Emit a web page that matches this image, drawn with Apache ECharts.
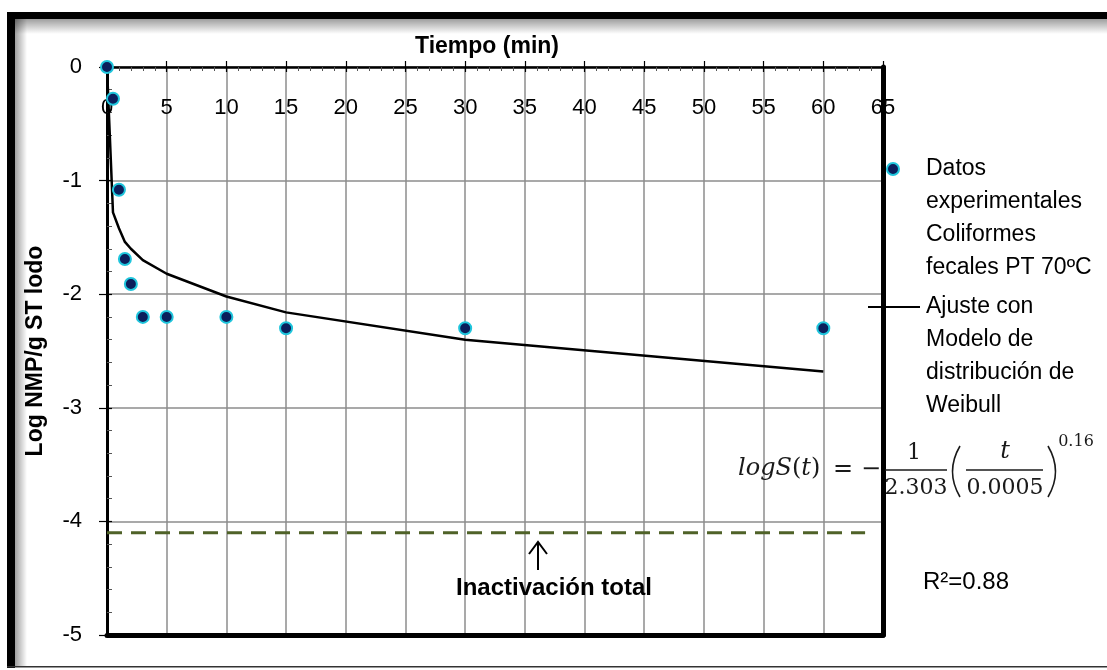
<!DOCTYPE html>
<html>
<head>
<meta charset="utf-8">
<script src="https://cdn.jsdelivr.net/npm/echarts@6/dist/echarts.min.js"></script>
<style>
  html, body { margin: 0; padding: 0; background: #fff; }
  #chart { width: 1107px; height: 670px; }
</style>
</head>
<body>
<div id="chart"></div>
<script>
// Coliformes fecales, PT 70 ºC: measured log reduction vs. time (min)
const tiempo = [0, 0.5, 1, 1.5, 2, 3, 5, 10, 15, 30, 60];
const logNMP = [0, -0.28, -1.08, -1.69, -1.91, -2.2, -2.2, -2.2, -2.3, -2.3, -2.3];

// Weibull model curve, evaluated at the sampling times
const tiempoAjuste = [0, 0.5, 1, 1.5, 2, 3, 5, 10, 15, 30, 60];
const logAjuste = [0, -1.28, -1.42, -1.54, -1.60, -1.70, -1.82, -2.02, -2.16, -2.40, -2.68];

// Total inactivation level
const limiteT = [0, 63.5];
const limiteLog = [-4.1, -4.1];

// Axis ticks
const xTicks = [0, 5, 10, 15, 20, 25, 30, 35, 40, 45, 50, 55, 60, 65];
const yTicks = [-5, -4, -3, -2, -1, 0];

const legendDatos = ['Datos', 'experimentales', 'Coliformes', 'fecales PT 70ºC'];
const legendAjuste = ['Ajuste con', 'Modelo de', 'distribución de', 'Weibull'];

const SANS = 'Liberation Sans';
const SERIF = 'DejaVu Serif';
const NAVY = '#0b1f5c';
const CYAN = '#1fc5dc';

const pairs = (xs, ys) => xs.map((x, i) => [x, ys[i]]);

const chart = echarts.init(document.getElementById('chart'), null, { renderer: 'canvas' });

const hiddenAxisBits = {
  axisLabel: { show: false },
  splitLine: { show: false },
  minorTick: { show: false },
  minorSplitLine: { show: false }
};

const option = {
  animation: false,
  backgroundColor: '#fff',
  grid: { left: 107, top: 67, width: 776, height: 568, containLabel: false },
  xAxis: [
    {
      type: 'value', position: 'top', min: 0, max: 65, interval: 5,
      name: 'Tiempo (min)', nameLocation: 'middle', nameGap: 9,
      nameTextStyle: { fontFamily: SANS, fontSize: 23, fontWeight: 'bold', color: '#000', padding: [0, 16, 0, 0] },
      axisLine: { onZero: false, lineStyle: { color: '#000', width: 2.5 } },
      axisTick: { show: true, inside: true, length: 5, lineStyle: { color: '#000', width: 1.2 } },
      minorTick: { show: true, splitNumber: 5, length: 4, lineStyle: { color: '#555', width: 1 } },
      axisLabel: { inside: true, margin: 30, fontFamily: SANS, fontSize: 22, color: '#000', customValues: xTicks },
      splitLine: { show: true, lineStyle: { color: '#8c8c8c', width: 1.5 } }
    },
    {
      // lower frame of the plot
      type: 'value', position: 'bottom', min: 0, max: 65, interval: 5,
      axisLine: { onZero: false, lineStyle: { color: '#000', width: 5 } },
      axisTick: { show: false }, ...hiddenAxisBits
    },
    {
      // outward major ticks along the top axis
      type: 'value', position: 'top', min: 0, max: 65, interval: 5,
      axisLine: { show: false, onZero: false },
      axisTick: { show: true, inside: false, length: 6, lineStyle: { color: '#000', width: 1.2 } },
      ...hiddenAxisBits
    }
  ],
  yAxis: [
    {
      type: 'value', position: 'left', min: -5, max: 0, interval: 1,
      name: 'Log NMP/g ST lodo', nameLocation: 'middle', nameRotate: 90, nameGap: 60,
      nameTextStyle: { fontFamily: SANS, fontSize: 23, fontWeight: 'bold', color: '#000' },
      axisLine: { onZero: false, lineStyle: { color: '#000', width: 3 } },
      axisTick: { show: true, inside: true, length: 5, lineStyle: { color: '#000', width: 1.2 } },
      minorTick: { show: true, splitNumber: 5, length: 5, lineStyle: { color: '#555', width: 1 } },
      axisLabel: { margin: 25, fontFamily: SANS, fontSize: 22, color: '#000', customValues: yTicks },
      splitLine: { show: true, lineStyle: { color: '#8c8c8c', width: 1.5 } }
    },
    {
      // right frame of the plot
      type: 'value', position: 'right', min: -5, max: 0, interval: 1,
      axisLine: { onZero: false, lineStyle: { color: '#000', width: 5 } },
      axisTick: { show: false }, ...hiddenAxisBits
    },
    {
      // outward major ticks along the left axis
      type: 'value', position: 'left', min: -5, max: 0, interval: 1,
      axisLine: { show: false, onZero: false },
      axisTick: { show: true, inside: false, length: 8, lineStyle: { color: '#000', width: 1.2 } },
      ...hiddenAxisBits
    }
  ],
  series: [
    {
      name: 'Inactivación total', type: 'line', xAxisIndex: 0, yAxisIndex: 0,
      data: pairs(limiteT, limiteLog), showSymbol: false, z: 3,
      lineStyle: { color: '#4f6228', width: 3, type: [15, 9] }
    },
    {
      name: 'Ajuste Weibull', type: 'line', xAxisIndex: 0, yAxisIndex: 0,
      data: pairs(tiempoAjuste, logAjuste), showSymbol: false, smooth: false, z: 4,
      lineStyle: { color: '#000', width: 2.5, join: 'round' }
    },
    {
      name: 'Datos experimentales', type: 'scatter', xAxisIndex: 0, yAxisIndex: 0,
      data: pairs(tiempo, logNMP), symbol: 'circle', symbolSize: 12, z: 5,
      itemStyle: { color: NAVY, borderColor: CYAN, borderWidth: 2, opacity: 1 }
    }
  ],
  graphic: [
    // outer frame with soft inner shadow
    { type: 'rect', z: -5, shape: { x: 15, y: 19, width: 1092, height: 15 },
      style: { fill: new echarts.graphic.LinearGradient(0, 0, 0, 1, [
        { offset: 0, color: 'rgba(0,0,0,0.38)' }, { offset: 1, color: 'rgba(0,0,0,0)' }]) } },
    { type: 'rect', z: -5, shape: { x: 15, y: 19, width: 12, height: 647 },
      style: { fill: new echarts.graphic.LinearGradient(0, 0, 1, 0, [
        { offset: 0, color: 'rgba(0,0,0,0.38)' }, { offset: 1, color: 'rgba(0,0,0,0)' }]) } },
    { type: 'rect', z: -4, shape: { x: 7, y: 12, width: 1100, height: 7 }, style: { fill: '#000' } },
    { type: 'rect', z: -4, shape: { x: 7, y: 12, width: 8, height: 656 }, style: { fill: '#000' } },
    { type: 'rect', z: -4, shape: { x: 7, y: 666, width: 1100, height: 1.5 }, style: { fill: '#333' } },

    // legend
    { type: 'circle', z: 10, shape: { cx: 893, cy: 169, r: 6 }, style: { fill: NAVY, stroke: CYAN, lineWidth: 2 } },
    { type: 'line', z: 10, shape: { x1: 868, y1: 307, x2: 920, y2: 307 }, style: { stroke: '#000', lineWidth: 2 } },
    { type: 'text', z: 10, x: 926, y: 152.5,
      style: { text: legendDatos.join('\n'), fontFamily: SANS, fontSize: 23, lineHeight: 33, fill: '#000', align: 'left', verticalAlign: 'top' } },
    { type: 'text', z: 10, x: 926, y: 290.5,
      style: { text: legendAjuste.join('\n'), fontFamily: SANS, fontSize: 23, lineHeight: 33, fill: '#000', align: 'left', verticalAlign: 'top' } },

    // model equation
    { type: 'text', z: 10, x: 738, y: 469,
      style: { text: '{i|logS}{u|(}{i|t}{u|)}', align: 'left', verticalAlign: 'middle', fill: '#1a1a1a',
        rich: { i: { fontFamily: SERIF, fontStyle: 'italic', fontSize: 24, fill: '#1a1a1a' },
                u: { fontFamily: SERIF, fontSize: 24, fill: '#1a1a1a' } } } },
    { type: 'text', z: 10, x: 843, y: 470, style: { text: '=', fontFamily: SERIF, fontSize: 24, fill: '#1a1a1a', align: 'center', verticalAlign: 'middle' } },
    { type: 'text', z: 10, x: 871, y: 470, style: { text: '\u2212', fontFamily: SERIF, fontSize: 24, fill: '#1a1a1a', align: 'center', verticalAlign: 'middle' } },
    { type: 'line', z: 10, shape: { x1: 885, y1: 470, x2: 947, y2: 470 }, style: { stroke: '#1a1a1a', lineWidth: 1.5 } },
    { type: 'text', z: 10, x: 914, y: 453, style: { text: '1', fontFamily: SERIF, fontSize: 22, fill: '#1a1a1a', align: 'center', verticalAlign: 'middle' } },
    { type: 'text', z: 10, x: 916, y: 488, style: { text: '2.303', fontFamily: SERIF, fontSize: 22, fill: '#1a1a1a', align: 'center', verticalAlign: 'middle' } },
    { type: 'bezierCurve', z: 10, shape: { x1: 960, y1: 446, x2: 960, y2: 497, cpx1: 945, cpy1: 471.5 }, style: { stroke: '#1a1a1a', lineWidth: 1.6, fill: null } },
    { type: 'line', z: 10, shape: { x1: 966, y1: 470, x2: 1043, y2: 470 }, style: { stroke: '#1a1a1a', lineWidth: 1.5 } },
    { type: 'text', z: 10, x: 1005, y: 452, style: { text: 't', fontFamily: SERIF, fontStyle: 'italic', fontSize: 24, fill: '#1a1a1a', align: 'center', verticalAlign: 'middle' } },
    { type: 'text', z: 10, x: 1005, y: 488, style: { text: '0.0005', fontFamily: SERIF, fontSize: 22, fill: '#1a1a1a', align: 'center', verticalAlign: 'middle' } },
    { type: 'bezierCurve', z: 10, shape: { x1: 1048, y1: 446, x2: 1048, y2: 497, cpx1: 1063, cpy1: 471.5 }, style: { stroke: '#1a1a1a', lineWidth: 1.6, fill: null } },
    { type: 'text', z: 10, x: 1076, y: 442, style: { text: '0.16', fontFamily: SERIF, fontSize: 16, fill: '#1a1a1a', align: 'center', verticalAlign: 'middle' } },

    // goodness of fit
    { type: 'text', z: 10, x: 923, y: 582, style: { text: 'R\u00b2=0.88', fontFamily: SANS, fontSize: 24, fill: '#000', align: 'left', verticalAlign: 'middle' } },

    // total inactivation note
    { type: 'line', z: 10, shape: { x1: 538, y1: 570, x2: 538, y2: 543 }, style: { stroke: '#000', lineWidth: 2 } },
    { type: 'polyline', z: 10, shape: { points: [[529, 554], [538, 542], [547, 554]] }, style: { stroke: '#000', lineWidth: 2, fill: null } },
    { type: 'text', z: 10, x: 554, y: 588, style: { text: 'Inactivación total', fontFamily: SANS, fontSize: 24, fontWeight: 'bold', fill: '#000', align: 'center', verticalAlign: 'middle' } }
  ]
};

chart.setOption(option);
</script>
</body>
</html>
